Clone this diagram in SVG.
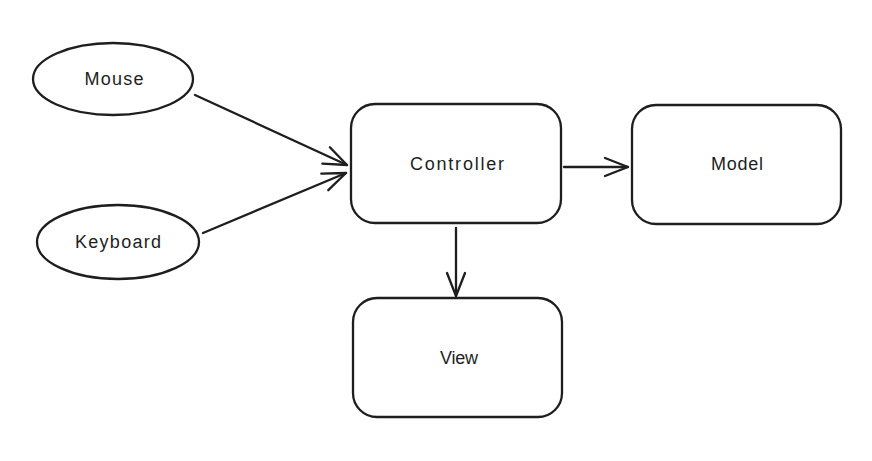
<svg xmlns="http://www.w3.org/2000/svg" width="872" height="461" viewBox="0 0 872 461">
<style>
.shape{fill:none;stroke:#1e1e1e;stroke-width:2.3;stroke-linecap:round;stroke-linejoin:round}
.lbl{font-family:"Liberation Sans",Arial,sans-serif;font-size:18px;fill:#1e1e1e;text-anchor:middle;dominant-baseline:central}
.conn{fill:none;stroke:#1e1e1e;stroke-width:2.3;stroke-linecap:round}
</style>
<defs>
<marker id="arr" markerUnits="userSpaceOnUse" markerWidth="30" markerHeight="30" viewBox="-26 -13 30 26" refX="0" refY="0" orient="auto">
<path d="M-23,-9 L0,0 L-23,9" fill="none" stroke="#1e1e1e" stroke-width="2.3" stroke-linecap="round" stroke-linejoin="round"/>
</marker>
</defs>
<rect width="872" height="461" fill="#ffffff"/>
<g id="mouse">
<ellipse class="shape" cx="113" cy="79" rx="80" ry="36"/>
<text class="lbl" x="114" y="79" textLength="59" lengthAdjust="spacing">Mouse</text>
</g>
<g id="keyboard">
<ellipse class="shape" cx="118" cy="242" rx="81" ry="37"/>
<text class="lbl" x="118" y="242" textLength="86" lengthAdjust="spacing">Keyboard</text>
</g>
<g id="controller">
<rect class="shape" x="351" y="104" width="210" height="119" rx="24"/>
<text class="lbl" x="457" y="164" textLength="94" lengthAdjust="spacing">Controller</text>
</g>
<g id="model">
<rect class="shape" x="632" y="105" width="209" height="119" rx="24"/>
<text class="lbl" x="737" y="164" textLength="52" lengthAdjust="spacing">Model</text>
</g>
<g id="view">
<rect class="shape" x="353" y="298" width="209" height="119" rx="24"/>
<text class="lbl" x="459" y="358" textLength="38" lengthAdjust="spacing">View</text>
</g>
<g id="connectors">
<path class="conn" d="M195,95 L347,165" marker-end="url(#arr)"/>
<path class="conn" d="M203,233 L346,173" marker-end="url(#arr)"/>
<path class="conn" d="M564,167 L628,167" marker-end="url(#arr)"/>
<path class="conn" d="M456,228 L456,296" marker-end="url(#arr)"/>
</g>
</svg>
